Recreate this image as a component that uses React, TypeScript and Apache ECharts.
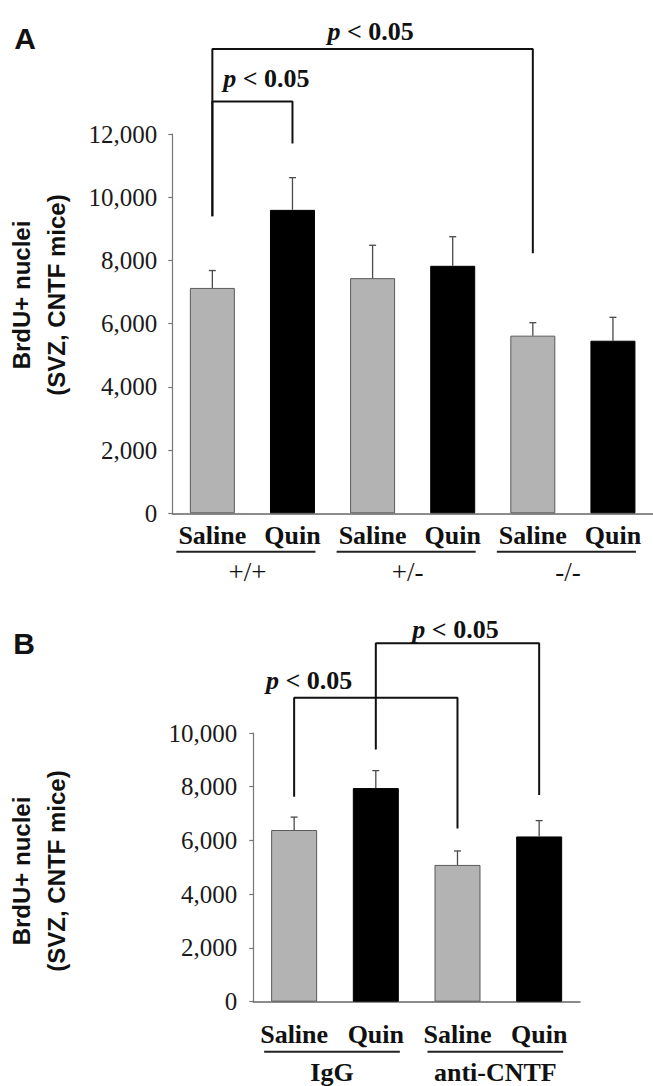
import React, { useEffect, useRef } from "react";
import * as echarts from "echarts";

// ---------- Panel A data ----------
const treatmentsA = ["Saline", "Quin", "Saline", "Quin", "Saline", "Quin"];
const genotypesA = ["+/+", "+/-", "-/-"];
const meanA = [7130, 9600, 7440, 7830, 5620, 5460];
const semA = [550, 1020, 1040, 920, 410, 740];
const yMaxA = 12000;

// ---------- Panel B data ----------
const treatmentsB = ["Saline", "Quin", "Saline", "Quin"];
const antibodiesB = ["IgG", "anti-CNTF"];
const meanB = [6390, 7950, 5090, 6150];
const semB = [480, 650, 520, 590];
const yMaxB = 10000;

const yTickStep = 2000;
const pText = "p < 0.05";

// significance brackets (values in data units)
const bracketsA = [
  { from: 0, to: 1, fromEnd: 9400, top: 13030, toEnd: 11700 },
  { from: 0, to: 4, fromEnd: 9400, top: 14690, toEnd: 8230 },
];
const bracketsB = [
  { from: 0, to: 2, fromEnd: 7630, top: 11310, toEnd: 6450 },
  { from: 1, to: 3, fromEnd: 9390, top: 13340, toEnd: 7690 },
];

const GRAY = "#b3b3b3";
const BLACK = "#000000";
const SERIF = '"Liberation Serif", "Times New Roman", serif';
const SANS = '"Liberation Sans", Arial, sans-serif';

function barItems(values: number[]) {
  return values.map((v, i) => ({
    value: v,
    itemStyle:
      i % 2 === 0
        ? { color: GRAY, borderColor: "#5a5a5a", borderWidth: 1 }
        : { color: BLACK, borderColor: BLACK, borderWidth: 1 },
  }));
}

function errorSeries(idx: number, means: number[], sems: number[]) {
  return {
    type: "custom",
    xAxisIndex: idx,
    yAxisIndex: idx,
    z: 5,
    encode: { x: 0, y: [1, 2] },
    data: means.map((m, i) => [i, m, m + sems[i]]),
    renderItem: (params: any, api: any) => {
      const base = api.coord([api.value(0), api.value(1)]);
      const top = api.coord([api.value(0), api.value(2)]);
      const st = { stroke: "#4a4a4a", lineWidth: 1.3 };
      return {
        type: "group",
        children: [
          { type: "line", shape: { x1: base[0], y1: base[1], x2: top[0], y2: top[1] }, style: st },
          { type: "line", shape: { x1: top[0] - 3.5, y1: top[1], x2: top[0] + 3.5, y2: top[1] }, style: st },
        ],
      };
    },
  };
}

function bracketSeries(idx: number, b: any) {
  return {
    type: "line",
    xAxisIndex: idx,
    yAxisIndex: idx,
    clip: false,
    symbol: "none",
    silent: true,
    z: 6,
    lineStyle: { color: "#111", width: 2 },
    data: [
      [b.from, b.fromEnd],
      [b.from, b.top],
      [b.to, b.top],
      [b.to, b.toEnd],
    ],
  };
}

function yAxis(idx: number, max: number, margin: number) {
  return {
    type: "value",
    gridIndex: idx,
    min: 0,
    max,
    interval: yTickStep,
    splitLine: { show: false },
    axisLine: { show: true, lineStyle: { color: "#777", width: 1.2 } },
    axisTick: { show: true, length: 4, lineStyle: { color: "#777", width: 1.2 } },
    axisLabel: {
      margin,
      color: "#1a1a1a",
      fontFamily: SERIF,
      fontSize: 25,
      formatter: (v: number) => v.toLocaleString("en-US"),
    },
  };
}

function xAxis(idx: number, cats: string[], margin: number) {
  return {
    type: "category",
    gridIndex: idx,
    data: cats,
    axisLine: { show: true, lineStyle: { color: "#666", width: 1.5 } },
    axisTick: { show: false },
    axisLabel: {
      interval: 0,
      margin,
      color: "#111",
      fontFamily: SERIF,
      fontWeight: "bold",
      fontSize: 26,
    },
  };
}

export default function App() {
  const ref = useRef<HTMLDivElement>(null);

  useEffect(() => {
    document.body.style.margin = "0";
    const chart = echarts.init(ref.current!, null, { renderer: "svg" });
    chart.setOption({
      animation: false,
      backgroundColor: "#ffffff",
      grid: [
        { left: 172.3, top: 134, width: 486, height: 379.3 },
        { left: 253.3, top: 733, width: 326.7, height: 268.7 },
      ],
      xAxis: [xAxis(0, treatmentsA, 9), xAxis(1, treatmentsB, 20)],
      yAxis: [yAxis(0, yMaxA, 15), yAxis(1, yMaxB, 16)],
      series: [
        { type: "bar", xAxisIndex: 0, yAxisIndex: 0, barWidth: 45, data: barItems(meanA) },
        { type: "bar", xAxisIndex: 1, yAxisIndex: 1, barWidth: 46, data: barItems(meanB) },
        errorSeries(0, meanA, semA),
        errorSeries(1, meanB, semB),
        ...bracketsA.map((b) => bracketSeries(0, b)),
        ...bracketsB.map((b) => bracketSeries(1, b)),
      ],
    });

    const px = (g: number, i: number, v: number) =>
      chart.convertToPixel({ xAxisIndex: g, yAxisIndex: g } as any, [i, v]) as number[];

    const els: any[] = [];
    const pLabel = (x: number, y: number) => ({
      type: "text",
      x,
      y,
      z: 10,
      style: {
        text: "{i|p}{n|" + pText.slice(1) + "}",
        align: "center",
        verticalAlign: "middle",
        textAlign: "center",
        textVerticalAlign: "middle",
        rich: {
          i: { font: `italic bold 26px ${SERIF}`, fill: "#111" },
          n: { font: `bold 26px ${SERIF}`, fill: "#111" },
        },
      },
    });
    const plainText = (x: number, y: number, text: string, font: string, lh: number, extra: any = {}) => ({
      type: "text",
      x,
      y,
      z: 10,
      ...extra,
      style: {
        text,
        font,
        fill: "#111",
        align: "center",
        verticalAlign: "middle",
        textAlign: "center",
        textVerticalAlign: "middle",
        lineHeight: lh,
      },
    });
    const underline = (x1: number, x2: number, y: number) => ({
      type: "line",
      z: 10,
      shape: { x1, y1: y, x2, y2: y },
      style: { stroke: "#222", lineWidth: 2 },
    });

    // panel letters
    els.push(plainText(25, 38, "A", `bold 30px ${SANS}`, 30));
    els.push(plainText(24, 643, "B", `bold 30px ${SANS}`, 30));

    // y axis titles
    const yTitle = "BrdU+ nuclei\n(SVZ, CNTF mice)";
    els.push(plainText(39, 295, yTitle, `bold 24px ${SANS}`, 35, { rotation: Math.PI / 2 }));
    els.push(plainText(39, 871, yTitle, `bold 24px ${SANS}`, 35, { rotation: Math.PI / 2 }));

    // panel A groups
    genotypesA.forEach((g, k) => {
      const a = px(0, 2 * k, 0);
      const b = px(0, 2 * k + 1, 0);
      els.push(underline(a[0] - 36, b[0] + 23, a[1] + 38.5));
      els.push(plainText((a[0] + b[0]) / 2 - 5, a[1] + 59, g, `27px ${SERIF}`, 26));
    });
    // panel B groups
    antibodiesB.forEach((g, k) => {
      const a = px(1, 2 * k, 0);
      const b = px(1, 2 * k + 1, 0);
      els.push(underline(a[0] - 30, b[0] + 24, a[1] + 50));
      els.push(plainText((a[0] + b[0]) / 2 - 3, a[1] + 71, g, `bold 26px ${SERIF}`, 24));
    });

    // p-value labels
    {
      const b0 = bracketsA[0];
      const l = px(0, b0.from, b0.top);
      const r = px(0, b0.to, b0.top);
      els.push(pLabel((l[0] + r[0]) / 2 + 14, l[1] - 23));
      const b1 = bracketsA[1];
      const l1 = px(0, b1.from, b1.top);
      const r1 = px(0, b1.to, b1.top);
      els.push(pLabel((l1[0] + r1[0]) / 2 - 2, l1[1] - 17));
    }
    {
      const b0 = bracketsB[0];
      const l = px(1, b0.from, b0.top);
      els.push(pLabel(l[0] + 15, l[1] - 17));
      const b1 = bracketsB[1];
      const l1 = px(1, b1.from, b1.top);
      const r1 = px(1, b1.to, b1.top);
      els.push(pLabel((l1[0] + r1[0]) / 2 - 2, l1[1] - 14));
    }

    chart.setOption({ graphic: els });
    return () => chart.dispose();
  }, []);

  return <div ref={ref} style={{ width: 653, height: 1086 }} />;
}
